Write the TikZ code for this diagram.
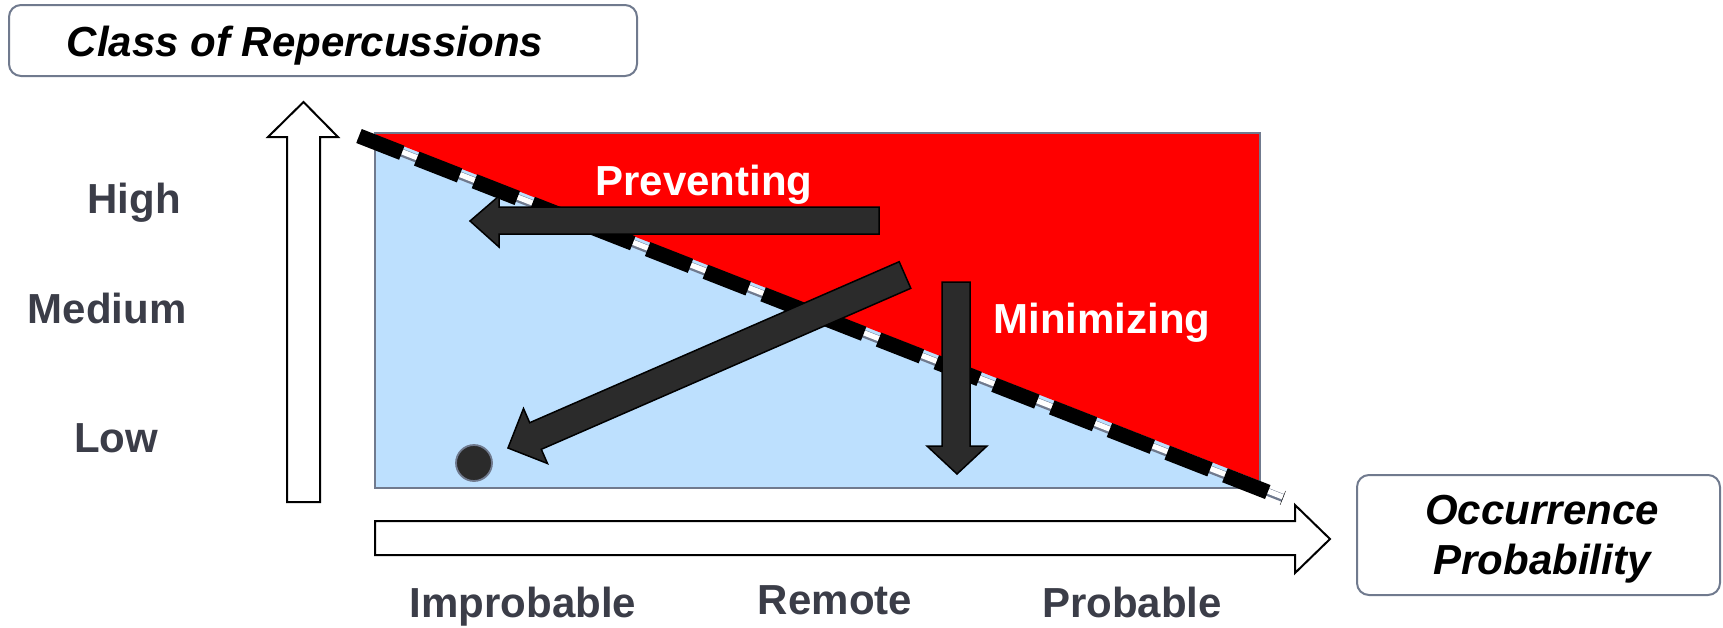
\documentclass[tikz,border=0pt]{standalone}
\usepackage{fontspec}
\setmainfont{Liberation Sans}
\usetikzlibrary{calc}
\definecolor{redz}{HTML}{FF0000}
\definecolor{bluez}{HTML}{BDE0FE}
\definecolor{darkz}{HTML}{2B2B2B}
\definecolor{edgez}{HTML}{707A8E}
\definecolor{labelz}{HTML}{3B3D48}
\begin{document}
\begin{tikzpicture}[x=0.5pt,y=-0.5pt,
  hollow/.style={draw=black, line width=1pt, fill=white, line join=miter},
  darkarrow/.style={draw=black, line width=0.75pt, fill=darkz, line join=miter},
  axislabel/.style={font=\fontsize{21}{25}\selectfont\bfseries, text=labelz, inner sep=0pt, anchor=base},
  whitelabel/.style={font=\fontsize{21}{25}\selectfont\bfseries, text=white, inner sep=0pt, anchor=base},
  titlelabel/.style={font=\fontsize{21}{26}\selectfont\bfseries\itshape, text=black, inner sep=0pt, align=center},
  titlebox/.style={draw=edgez, line width=1pt, rounded corners=6pt, fill=white, inner sep=0pt}]
\useasboundingbox (0,0) rectangle (1723,627);

% title boxes
\node[titlebox, minimum width=314pt, minimum height=35.5pt] (classbox) at (323,40.5) {};
\node[titlelabel, anchor=base] (classlabel) at (305,56) {Class of Repercussions};
\node[titlebox, minimum width=181.5pt, minimum height=60pt] (occbox) at (1538.5,535) {};
\node[titlelabel] (occlabel) at (1542,539) {Occurrence\\[-1pt]Probability};

% risk area
\coordinate (rtl) at (375,133);
\coordinate (rbr) at (1260,488);
\fill[bluez] (rtl) rectangle (rbr);
\fill[redz] (375,133) -- (1260,133) -- (1260,481) -- (375,135) -- cycle;
\draw[edgez, line width=0.8pt] (rtl) rectangle (rbr);

% dashed limit line
\coordinate (ds) at (359,136);
\coordinate (de) at (1283,498);
\draw[edgez, line width=4pt] (ds) -- (de);
\draw[white, line width=2.6pt] ($(ds)+(0,-1)$) -- ($(de)+(0,-1)$);
\draw[black, line width=7.5pt, dash pattern=on 23pt off 8pt] (ds) -- (de);

% hollow axis arrows
\draw[hollow] (287,502) -- (287,137) -- (268,137) -- (303.5,102) -- (338,137) -- (320,137) -- (320,502) -- cycle;
\draw[hollow] (375,521) -- (1295,521) -- (1295,505) -- (1330,539) -- (1295,573) -- (1295,555) -- (375,555) -- cycle;

% dark arrows
\draw[darkarrow] (879,207) -- (499,207) -- (499,196) -- (470,221) -- (499,247) -- (499,234) -- (879,234) -- cycle;
\draw[darkarrow] (899.2,261.7) -- (529.7,422.7) -- (523.5,408.5) -- (508,448) -- (547.5,463.5) -- (541.3,449.3) -- (910.8,288.3) -- cycle;
\draw[darkarrow] (942,282) -- (942,446) -- (927,446) -- (957,474) -- (987,446) -- (970,446) -- (970,282) -- cycle;

% event dot
\node[circle, draw=edgez, line width=0.9pt, fill=darkz, minimum size=18pt, inner sep=0pt] (dot) at (474,463) {};

% labels
\node[whitelabel] (prev) at (704,195) {Preventing};
\node[whitelabel] (mini) at (1102,333) {Minimizing};
\node[axislabel] (high) at (134,213) {High};
\node[axislabel] (medium) at (107,323) {Medium};
\node[axislabel] (low) at (116,452) {Low};
\node[axislabel] (improb) at (523,617) {Improbable};
\node[axislabel] (remote) at (835,614) {Remote};
\node[axislabel] (prob) at (1132,617) {Probable};
\end{tikzpicture}
\end{document}
